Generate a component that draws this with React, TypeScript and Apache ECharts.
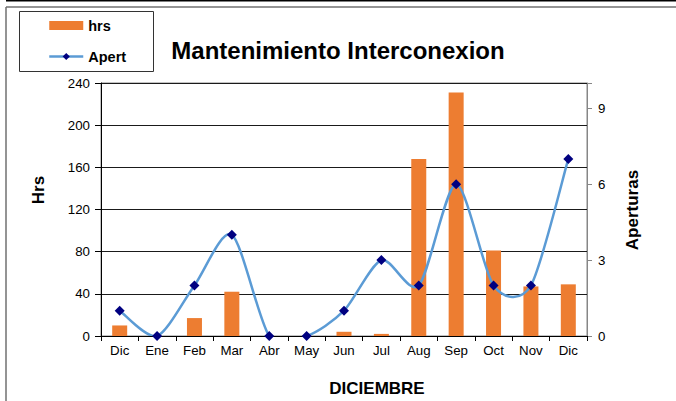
import React, { useEffect, useRef } from 'react';
import * as echarts from 'echarts';

const categories = ['Dic', 'Ene', 'Feb', 'Mar', 'Abr', 'May', 'Jun', 'Jul', 'Aug', 'Sep', 'Oct', 'Nov', 'Dic'];
const hrsValues = [10, 0, 17, 42, 0, 0, 4, 2, 168, 231, 81, 47, 49];
const apertValues = [1, 0, 2, 4, 0, 0, 1, 3, 2, 6, 2, 2, 7];
const hrsAxis = { min: 0, max: 240, interval: 40 };
const apertAxis = { min: 0, max: 10, interval: 3 };
const seriesNames = ['hrs', 'Apert'];
const chartTitle = 'Mantenimiento Interconexion';
const xTitle = 'DICIEMBRE';
const yLeftTitle = 'Hrs';
const yRightTitle = 'Aperturas';

const FONT = "'Liberation Sans', Arial, sans-serif";
const LINE_COLOR = '#5B9BD5';
const TENSION = 0.135;

export default function App() {
  const ref = useRef<HTMLDivElement>(null);
  useEffect(() => {
    if (!ref.current) return;
    const chart = echarts.init(ref.current, undefined, { renderer: 'svg' });
    const curveData = apertValues.map((v, i) => [i, v]);
    chart.setOption({
      animation: false,
      backgroundColor: '#fff',
      title: {
        text: chartTitle,
        left: 'center',
        top: 33,
        textStyle: { fontFamily: FONT, fontSize: 24, fontWeight: 'bold', color: '#000' },
      },
      legend: {
        data: [
          { name: seriesNames[0], icon: 'rect' },
          { name: seriesNames[1], lineStyle: { color: LINE_COLOR, width: 2.5, opacity: 1 } },
        ],
        orient: 'vertical',
        left: 48,
        top: 18,
        padding: 0,
        itemWidth: 34,
        itemHeight: 9,
        itemGap: 16,
        textStyle: { fontFamily: FONT, fontSize: 14.5, fontWeight: 'bold', color: '#000' },
      },
      grid: {
        left: 101,
        right: 89,
        top: 83,
        bottom: 65,
        show: true,
        borderColor: '#868686',
        borderWidth: 1,
      },
      xAxis: {
        type: 'category',
        data: categories,
        boundaryGap: true,
        axisLine: { lineStyle: { color: '#000', width: 1 } },
        axisTick: { show: true, length: 5, lineStyle: { color: '#000' } },
        axisLabel: { color: '#000', fontFamily: FONT, fontSize: 13.3, margin: 8, interval: 0 },
      },
      yAxis: [
        {
          type: 'value',
          min: hrsAxis.min,
          max: hrsAxis.max,
          interval: hrsAxis.interval,
          axisLine: { show: true, lineStyle: { color: '#000', width: 1 } },
          axisTick: { show: true, length: 6, lineStyle: { color: '#000' } },
          axisLabel: { color: '#000', fontFamily: FONT, fontSize: 13.3, margin: 11 },
          splitLine: { show: true, lineStyle: { color: '#1a1a1a', width: 1 } },
        },
        {
          type: 'value',
          position: 'right',
          min: apertAxis.min,
          max: apertAxis.max,
          interval: apertAxis.interval,
          axisLine: { show: true, lineStyle: { color: '#868686', width: 1 } },
          axisTick: { show: true, length: 5, lineStyle: { color: '#868686' } },
          axisLabel: {
            color: '#000',
            fontFamily: FONT,
            fontSize: 13.3,
            margin: 11,
            formatter: (v: number) => (v > 9 ? '' : String(v)),
          },
          splitLine: { show: false },
        },
      ],
      series: [
        {
          name: seriesNames[0],
          type: 'bar',
          data: hrsValues,
          barWidth: 15,
          itemStyle: { color: '#ED7D31' },
          z: 2,
        },
        {
          name: 'ApertCurve',
          type: 'custom',
          yAxisIndex: 1,
          data: curveData,
          clip: true,
          silent: true,
          z: 3,
          encode: { x: 0, y: 1 },
          renderItem: (params: any, api: any) => {
            const i = params.dataIndexInside;
            const n = params.dataInsideLength;
            if (i >= n - 1) return null;
            const pt = (k: number) => {
              const kk = Math.max(0, Math.min(n - 1, k));
              return api.coord([api.value(0, kk), api.value(1, kk)]);
            };
            const p0 = pt(i - 1);
            const p1 = pt(i);
            const p2 = pt(i + 1);
            const p3 = pt(i + 2);
            return {
              type: 'bezierCurve',
              shape: {
                x1: p1[0],
                y1: p1[1],
                x2: p2[0],
                y2: p2[1],
                cpx1: p1[0] + (p2[0] - p0[0]) * TENSION,
                cpy1: p1[1] + (p2[1] - p0[1]) * TENSION,
                cpx2: p2[0] - (p3[0] - p1[0]) * TENSION,
                cpy2: p2[1] - (p3[1] - p1[1]) * TENSION,
              },
              style: { stroke: LINE_COLOR, lineWidth: 2.5, fill: 'none' },
            };
          },
        },
        {
          name: seriesNames[1],
          type: 'line',
          yAxisIndex: 1,
          data: apertValues,
          symbol: 'diamond',
          symbolSize: 10,
          itemStyle: { color: '#000080' },
          lineStyle: { color: LINE_COLOR, width: 2.5, opacity: 0 },
          z: 4,
        },
      ],
      graphic: [
        { type: 'line', shape: { x1: 6, y1: 0.5, x2: 676, y2: 0.5 }, style: { stroke: '#000', lineWidth: 2 } },
        { type: 'line', shape: { x1: 6, y1: 7, x2: 676, y2: 7 }, style: { stroke: '#707070', lineWidth: 1.5 } },
        { type: 'line', shape: { x1: 6, y1: 7, x2: 6, y2: 401 }, style: { stroke: '#707070', lineWidth: 1.5 } },
        { type: 'rect', shape: { x: 19.5, y: 11.5, width: 134, height: 60 }, style: { fill: 'none', stroke: '#333', lineWidth: 1 }, z: -1 },
        {
          type: 'text', x: 38, y: 190, rotation: Math.PI / 2,
          style: { text: yLeftTitle, font: `bold 17px ${FONT}`, fill: '#000', align: 'center', verticalAlign: 'middle' },
        },
        {
          type: 'text', x: 632, y: 210, rotation: Math.PI / 2,
          style: { text: yRightTitle, font: `bold 17px ${FONT}`, fill: '#000', align: 'center', verticalAlign: 'middle' },
        },
        {
          type: 'text', x: 377, y: 388,
          style: { text: xTitle, font: `bold 17px ${FONT}`, fill: '#000', align: 'center', verticalAlign: 'middle' },
        },
      ],
    });
    return () => chart.dispose();
  }, []);
  return <div ref={ref} style={{ position: 'fixed', left: 0, top: 0, width: 676, height: 401 }} />;
}
